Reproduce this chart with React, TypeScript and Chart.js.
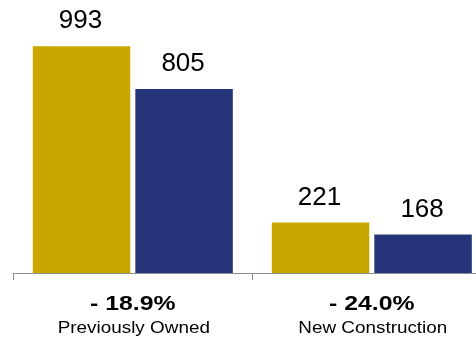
import React, { useEffect, useRef } from "react";
import { Chart, registerables } from "chart.js";

Chart.register(...registerables);

const categories = ["Previously Owned", "New Construction"];
const changeLabels = ["- 18.9%", "- 24.0%"];
const priorValues = [993, 221];
const currentValues = [805, 168];

const GOLD = "#C8A800";
const NAVY = "#26347A";
const AXIS = "#8c8c8c";
const FONT = "'Liberation Sans', Arial, Helvetica, sans-serif";

const labelsPlugin = {
  id: "customLabels",
  afterDatasetsDraw(chart: any) {
    const ctx = chart.ctx;
    ctx.save();
    ctx.fillStyle = "#000";
    ctx.font = `26px ${FONT}`;
    ctx.textAlign = "center";
    ctx.textBaseline = "alphabetic";
    chart.data.datasets.forEach((ds: any, di: number) => {
      const meta = chart.getDatasetMeta(di);
      meta.data.forEach((bar: any, i: number) => {
        ctx.fillText(String(ds.data[i]), bar.x - 1, bar.y - 18);
      });
    });
    ctx.restore();
  },
  afterDraw(chart: any) {
    const ctx = chart.ctx;
    const xs = chart.scales.x;
    ctx.save();
    ctx.fillStyle = "#000";
    ctx.textAlign = "center";
    ctx.textBaseline = "alphabetic";
    categories.forEach((cat, i) => {
      const cx = xs.getPixelForValue(i);
      ctx.save();
      ctx.translate(cx, 0);
      ctx.scale(1.24, 1);
      ctx.font = `bold 20px ${FONT}`;
      ctx.fillText(changeLabels[i], 0, 309.5);
      ctx.restore();
      ctx.save();
      ctx.translate(cx + 1, 0);
      ctx.scale(1.18, 1);
      ctx.font = `16px ${FONT}`;
      ctx.fillText(cat, 0, 333);
      ctx.restore();
    });
    ctx.restore();
  },
};

export default function App() {
  const ref = useRef<HTMLCanvasElement | null>(null);
  useEffect(() => {
    if (!ref.current) return;
    const chart = new Chart(ref.current, {
      type: "bar",
      data: {
        labels: categories,
        datasets: [
          { label: "Prior", data: priorValues, backgroundColor: GOLD, borderWidth: 0 },
          { label: "Current", data: currentValues, backgroundColor: NAVY, borderWidth: 0 },
        ],
      },
      options: {
        animation: false,
        responsive: false,
        devicePixelRatio: 1,
        layout: { padding: { left: 13.3, right: 8.7, top: 0, bottom: 60 } },
        datasets: { bar: { categoryPercentage: 0.858, barPercentage: 0.951 } },
        plugins: { legend: { display: false }, tooltip: { enabled: false }, title: { display: false } },
        scales: {
          x: {
            grid: { display: true, drawOnChartArea: false, drawTicks: true, tickLength: 7, color: AXIS, lineWidth: 1, offset: true },
            border: { display: true, color: AXIS, width: 1 },
            ticks: { display: false },
          },
          y: { display: false, min: 0, max: 1195 },
        },
      },
      plugins: [labelsPlugin],
    });
    return () => chart.destroy();
  }, []);
  return (
    <div style={{ position: "fixed", left: 0, top: 0, width: 476, height: 340, overflow: "hidden", background: "#fff" }}>
      <canvas ref={ref} width={500} height={340} style={{ display: "block" }} />
    </div>
  );
}
